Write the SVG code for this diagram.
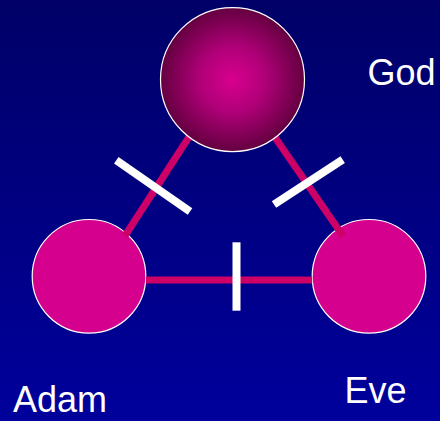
<svg xmlns="http://www.w3.org/2000/svg" width="440" height="421" viewBox="0 0 440 421">
  <defs>
    <linearGradient id="bg" x1="0" y1="0" x2="0" y2="1">
      <stop offset="0" stop-color="#000068"/>
      <stop offset="1" stop-color="#00009c"/>
    </linearGradient>
    <radialGradient id="godFill" cx="0.5" cy="0.5" r="0.5">
      <stop offset="0" stop-color="#d8008f"/>
      <stop offset="0.45" stop-color="#b00078"/>
      <stop offset="1" stop-color="#640040"/>
    </radialGradient>
    <style>
      .node { stroke: #ffffff; stroke-width: 1.2; }
      .solid { fill: #d6008f; }
      .link { stroke: #cc0066; stroke-width: 7; fill: none; stroke-linecap: butt; }
      .bar { stroke: #ffffff; stroke-width: 8; stroke-linecap: butt; }
      .label { font-family: "Liberation Sans", Arial, sans-serif; font-size: 36px; fill: #ffffff; }
    </style>
  </defs>
  <rect x="0" y="0" width="440" height="421" fill="url(#bg)"/>

  <g id="adam">
    <circle class="node solid" cx="89" cy="276.3" r="56.8"/>
    <text class="label" x="13" y="412">Adam</text>
  </g>
  <g id="eve">
    <circle class="node solid" cx="369" cy="276.3" r="56.8"/>
    <text class="label" x="344.5" y="403">Eve</text>
  </g>

  <g id="connectors">
    <line class="link" x1="200" y1="120" x2="124.8" y2="236"/>
    <line class="link" x1="263" y1="120" x2="343" y2="236"/>
    <line class="link" x1="145.8" y1="280" x2="312.2" y2="280"/>
    <line class="bar" x1="116.3" y1="160.3" x2="190" y2="211.5"/>
    <line class="bar" x1="342.7" y1="159.7" x2="274" y2="204.5"/>
    <line class="bar" x1="236.5" y1="242.3" x2="236.5" y2="310.7"/>
  </g>

  <g id="god">
    <circle class="node" cx="232.5" cy="79.6" r="72" fill="url(#godFill)"/>
    <text class="label" x="367.5" y="85">God</text>
  </g>
</svg>
